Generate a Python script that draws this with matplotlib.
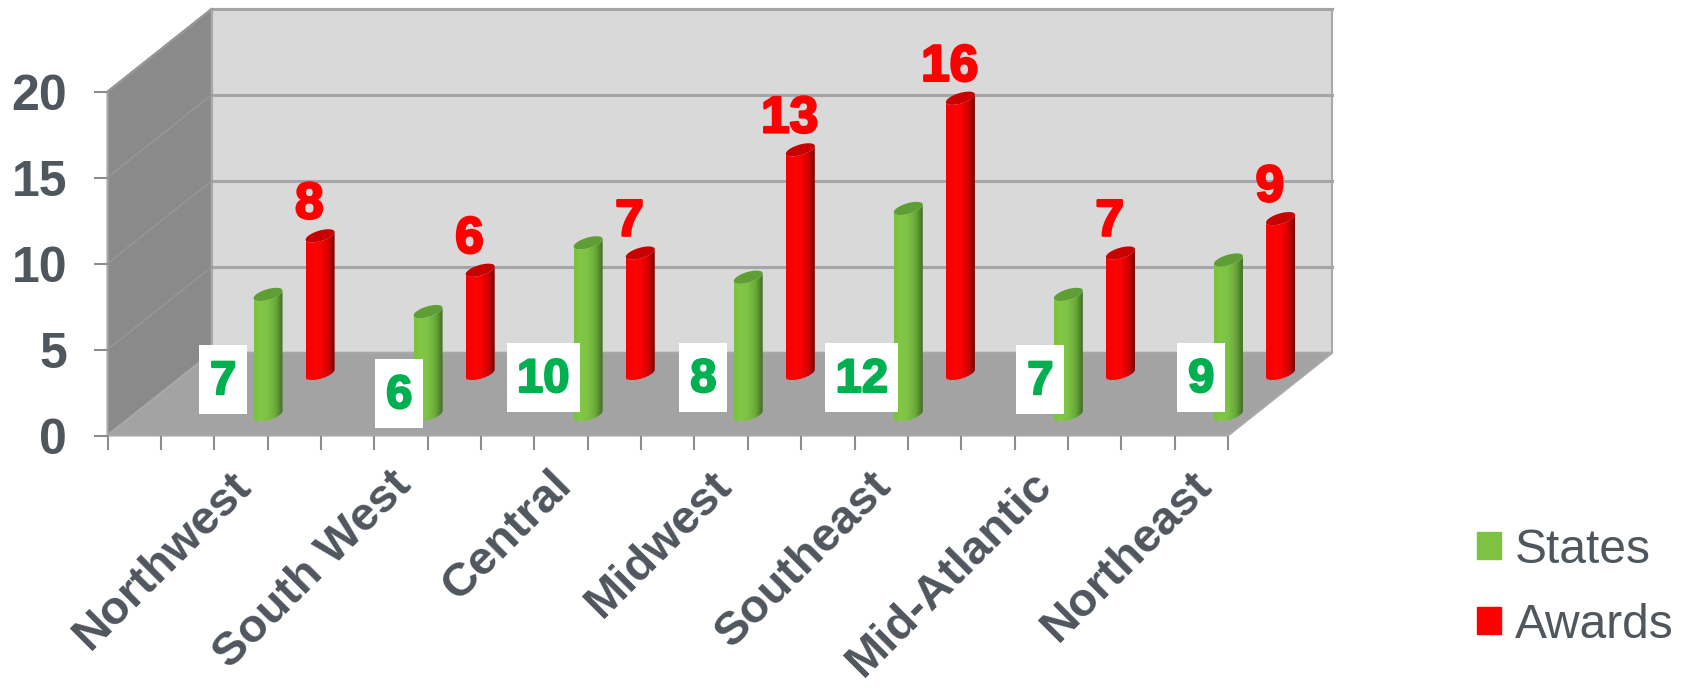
import numpy as np
import matplotlib
matplotlib.use("Agg")
import matplotlib.pyplot as plt
import matplotlib.patheffects as pe
from matplotlib.colors import LinearSegmentedColormap
from matplotlib.patches import Patch, Polygon, Rectangle

regions = ["Northwest", "South West", "Central", "Midwest", "Southeast", "Mid-Atlantic", "Northeast"]
states = [7, 6, 10, 8, 12, 7, 9]
awards = [8, 6, 7, 13, 16, 7, 9]
value_ticks = [0, 5, 10, 15, 20]

# hand placed state labels in the original: shift left of the bar, height of label centre
state_label_shift = [0.28, 0.18, 0.28, 0.28, 0.29, 0.175, 0.17]
state_label_y = [3.25, 2.44, 3.38, 3.38, 3.38, 3.25, 3.38]

TEXT_COLOR = "#50565e"
GREEN = "#7dc242"
RED = "#ff0000"
LABEL_GREEN = "#00b050"

# oblique projection: one unit of depth moves this far in x and y data units
DEPTH_X = 0.651
DEPTH_Y = 4.81
BAR_POS = 0.84
BAR_A = 0.074
BAR_R = 0.08

plt.rcParams["font.family"] = ["Liberation Sans", "DejaVu Sans"]


def project(x, value, depth):
    x, value, depth = np.broadcast_arrays(x, value, depth)
    return x + depth * DEPTH_X, value + depth * DEPTH_Y


def draw_panel(ax, corners, color):
    points = [project(*corner) for corner in corners]
    ax.add_patch(Polygon(points, closed=True, facecolor=color, edgecolor="#a8a8a8",
                         linewidth=1.5, clip_on=False, zorder=1))


def draw_bar(ax, x, value, depth, colors, top_color, zorder):
    t0 = np.arctan2(BAR_R * DEPTH_X, BAR_A)
    t = np.linspace(t0 + np.pi, t0 + 2 * np.pi, 60)

    bx, by = project(x + BAR_A * np.cos(t), 0, depth + BAR_R * np.sin(t))
    tx, ty = project(x + BAR_A * np.cos(t[::-1]), value, depth + BAR_R * np.sin(t[::-1]))
    body = Polygon(np.column_stack([np.r_[bx, tx], np.r_[by, ty]]), closed=True,
                   facecolor="none", edgecolor="none", transform=ax.transData)
    ax.add_patch(body)

    cmap = LinearSegmentedColormap.from_list("bar", colors)
    gradient = np.linspace(0, 1, 128).reshape(1, -1)
    extent = [bx.min(), bx.max(), by.min(), ty.max()]
    image = ax.imshow(gradient, cmap=cmap, extent=extent, aspect="auto", zorder=zorder)
    # the last bars stand outside the axes box, so only the bar shape may clip
    image.set_clip_box(fig.bbox)
    image.set_clip_path(body)

    t = np.linspace(0, 2 * np.pi, 60)
    ex, ey = project(x + BAR_A * np.cos(t), value, depth + BAR_R * np.sin(t))
    ax.fill(ex, ey, color=top_color, linewidth=0, clip_on=False, zorder=zorder + 0.1)


fig = plt.figure(figsize=(16.86, 6.88), dpi=100)
ax = fig.add_axes([107.5 / 1686, 1 - 435.5 / 688, 1120.5 / 1686, 344 / 688])

n = len(regions)
x_max = n
y_max = value_ticks[-1]

draw_panel(ax, [(0, 0, 0), (0, y_max, 0), (0, y_max, 1), (0, 0, 1)], "#8a8a8a")
draw_panel(ax, [(0, 0, 1), (0, y_max, 1), (x_max, y_max, 1), (x_max, 0, 1)], "#d9d9d9")
draw_panel(ax, [(0, 0, 0), (0, 0, 1), (x_max, 0, 1), (x_max, 0, 0)], "#a3a3a3")

for v in value_ticks[1:-1] + [y_max]:
    xs, ys = project(np.array([0, x_max]), v, 1)
    ax.plot(xs, ys, color="#a3a5a8", linewidth=2.2, clip_on=False, zorder=2)
    xs, ys = project(0, v, np.array([0, 1]))
    ax.plot(xs, ys, color="#969696", linewidth=1.2, clip_on=False, zorder=2)

green_colors = ["#7bc143", "#80c846", "#7bc143", "#6aa83a", "#3f6f22"]
red_colors = ["#f40000", "#ff0000", "#ff0000", "#d80000", "#7a0000"]

for i in range(n):
    x = i + BAR_POS
    draw_bar(ax, x, awards[i], 0.75, red_colors, "#c80000", 3)
    draw_bar(ax, x, states[i], 0.25, green_colors, "#5f9e35", 4)

    lx, ly = project(x, awards[i], 0.75)
    ax.text(lx - 0.067, ly + 1.8, str(awards[i]), color=RED, fontsize=37, fontweight="bold",
            ha="center", va="center", zorder=6,
            path_effects=[pe.withStroke(linewidth=1.8, foreground=RED)])

    cx, _ = project(x, 0, 0.25)
    cx = cx - state_label_shift[i]
    label = str(states[i])
    width = 0.3 if len(label) == 1 else 0.455
    ax.add_patch(Rectangle((cx - width / 2, state_label_y[i] - 2), width, 4, facecolor="white",
                           edgecolor="none", clip_on=False, zorder=5))
    ax.text(cx, state_label_y[i] - 0.15, label, color=LABEL_GREEN, fontsize=34, fontweight="bold",
            ha="center", va="center", zorder=6,
            path_effects=[pe.withStroke(linewidth=1.5, foreground=LABEL_GREEN)])

ax.set_xlim(0, x_max)
ax.set_ylim(0, y_max)

for spine in ax.spines.values():
    spine.set_visible(False)

ax.set_yticks(value_ticks)
ax.set_yticklabels([str(v) for v in value_ticks], fontsize=36, fontweight="bold", color=TEXT_COLOR)
ax.tick_params(axis="y", length=10, width=1.5, color="#8c8c8c", pad=19)

ax.set_xticks(np.arange(n) + 0.76)
ax.set_xticklabels(regions, fontsize=34, fontweight="bold", color=TEXT_COLOR,
                   rotation=45, ha="right", va="top", rotation_mode="anchor")
ax.set_xticks(np.arange(0, 3 * n + 1) / 3, minor=True)
ax.tick_params(axis="x", which="major", length=0, pad=20)
ax.tick_params(axis="x", which="minor", length=10, width=1.5, color="#8c8c8c")

handles = [Patch(color=GREEN, label="States"), Patch(color=RED, label="Awards")]
legend = fig.legend(handles=handles, loc="lower right", bbox_to_anchor=(1.0038, 0.031), frameon=False,
                    fontsize=34.5, handlelength=0.5, handleheight=0.5, handletextpad=0.28,
                    labelspacing=0.62, borderaxespad=0)
for text in legend.get_texts():
    text.set_color(TEXT_COLOR)

fig.savefig("out.png", dpi=100)
